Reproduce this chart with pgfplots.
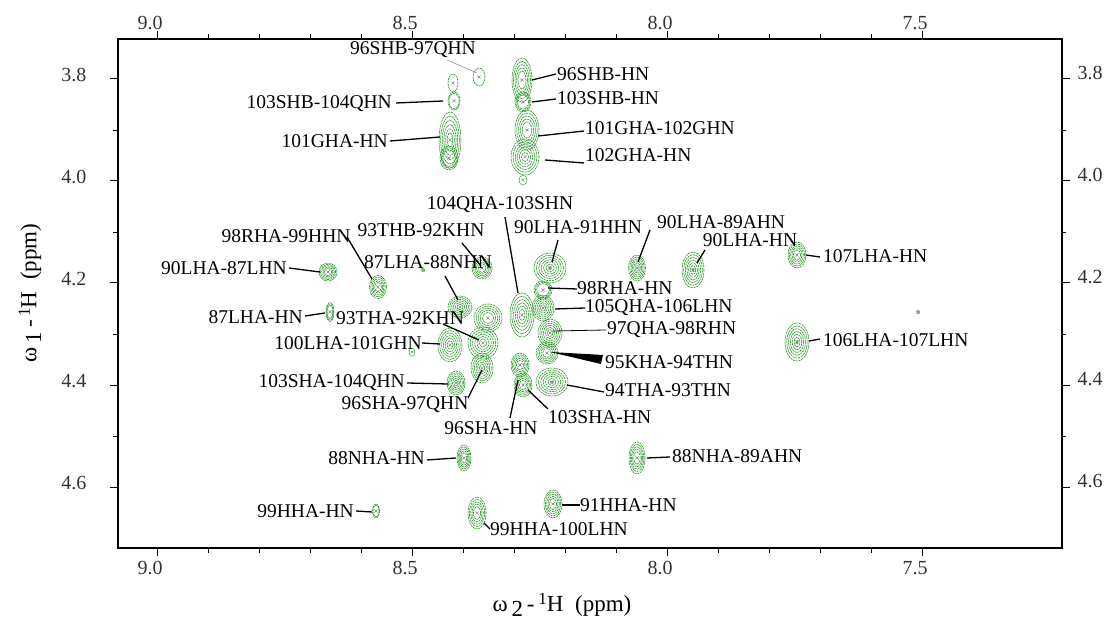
\documentclass[border=0pt]{standalone}
\usepackage{pgfplots}
\pgfplotsset{compat=1.18}
\usepackage{fontspec}
\setmainfont{Liberation Serif}
\definecolor{nmrgreen}{RGB}{25,145,25}
\definecolor{tickgray}{RGB}{50,50,50}

\pgfdeclareplotmark{nmr}{%
  \pgfmathtruncatemacro\pkN{\pkn}%
  \pgfmathsetmacro\pkc{min(1.6,0.45*\pkrx)}%
  \pgfscope
  \pgfsetstrokecolor{nmrgreen}%
  \pgfsetlinewidth{0.55bp}%
  \pgfsetdash{{2.2bp}{0.7bp}}{0pt}%
  \foreach \i in {1,...,\pkN}{%
    \pgfmathsetmacro\f{1-0.15*(\i-1)}%
    \pgfpathellipse{\pgfpointorigin}{\pgfpoint{\f*\pkrx bp}{0bp}}{\pgfpoint{0bp}{\f*\pkry bp}}%
    \pgfusepathqstroke
  }%
  \endpgfscope
  \pgfscope
  \pgfsetdash{}{0pt}%
  \pgfsetstrokecolor{gray}%
  \pgfsetlinewidth{0.4bp}%
  \pgfpathmoveto{\pgfpoint{-\pkc bp}{-\pkc bp}}\pgfpathlineto{\pgfpoint{\pkc bp}{\pkc bp}}%
  \pgfpathmoveto{\pgfpoint{-\pkc bp}{\pkc bp}}\pgfpathlineto{\pgfpoint{\pkc bp}{-\pkc bp}}%
  \pgfusepathqstroke
  \endpgfscope
}

\pgfplotstableread{
x y rx ry n
8.3686 3.7961 6 9 1
8.4196 3.8078 5 9 1
8.4176 3.8431 6 9 2
8.4255 3.9196 11 28 6
8.4275 3.9549 9 12 3
8.2843 3.8020 10 22 5
8.2824 3.8451 8 10 3
8.2745 3.9000 12 20 5
8.2784 3.9529 14 18 6
8.2824 3.9980 4 5 1
8.6647 4.1784 9 9 5
8.5667 4.2078 8.5 11.5 5
8.6608 4.2569 4 9.5 3
8.5000 4.3353 3 4 1
8.4784 4.1745 1.5 2 1
8.3627 4.1706 10 11 5
8.4059 4.2471 12 11 6
8.3510 4.2686 14 14 5
8.4255 4.3216 12 17 6
8.3608 4.3176 15 16 6
8.3627 4.3667 11 15 6
8.4137 4.3961 9 12 6
8.2843 4.2627 12 22 6
8.2882 4.3608 9 12 5
8.2824 4.4000 9 12 5
8.2294 4.1706 16 15 7
8.2431 4.2137 9 9 3
8.2431 4.2490 11 13 6
8.2294 4.2980 12 14 6
8.2353 4.3373 11 11 5
8.2255 4.3941 16 14 7
8.0588 4.1706 8.5 13 6
7.9490 4.1745 11 18 7
7.7451 4.1451 9 13 5
7.7451 4.3157 12 19 7
7.5078 4.2569 1.5 2 1
8.3980 4.5431 7 13 5
8.0588 4.5431 8 16 5
8.5706 4.6471 3.5 7 2
8.3725 4.6510 9 16 5
8.2235 4.6333 9 14 5
}\peaks

\begin{document}
\begin{tikzpicture}
\useasboundingbox (-118bp,-79bp) rectangle (989bp,548bp);
\pgfplotsset{
  every axis/.append style={
    at={(0,0)}, anchor=south west, scale only axis,
    width=944bp, height=509bp,
    x dir=reverse, y dir=reverse,
    xmin=7.2255, xmax=9.0765, ymin=3.72157, ymax=4.71961,
    xtick={7.5,8,8.5,9}, minor x tick num=4,
    ytick={3.8,4.0,4.2,4.4,4.6}, minor y tick num=1,
    tick align=outside, major tick length=8bp, minor tick length=4.5bp,
    axis line style={line width=1.5bp},
    every tick/.style={black, line width=1bp},
    every minor tick/.style={black, line width=0.6bp},
    /pgf/number format/assume math mode=true,
    /pgf/number format/.cd, fixed, fixed zerofill, precision=1, /pgfplots/.cd,
    tick label style={font=\fontsize{20bp}{24bp}\selectfont, text=tickgray},
  }
}
\begin{axis}[xtick pos=both, ytick pos=both,
  xticklabel pos=lower, yticklabel pos=left,
  xticklabel style={xshift=-7bp, yshift=-2bp},
  yticklabel style={xshift=-20bp, yshift=4bp},
  clip=true]
\addplot[only marks, mark=nmr,
  visualization depends on={\thisrow{rx} \as \pkrx},
  visualization depends on={\thisrow{ry} \as \pkry},
  visualization depends on={\thisrow{n} \as \pkn}]
  table[x=x, y=y] {\peaks};
\end{axis}
\begin{axis}[xtick pos=both, ytick pos=both,
  xticklabel pos=upper, yticklabel pos=right,
  xticklabel style={xshift=-7bp, yshift=-2bp},
  yticklabel style={xshift=4bp, yshift=6bp}]
\end{axis}

\begin{scope}[x=1bp, y=-1bp, shift={(-118bp,548bp)},
  every node/.style={font=\fontsize{19.5bp}{23bp}\selectfont, inner sep=0pt},
  ld/.style={line width=1.3bp, black}]
% axis titles
\node[font=\fontsize{23bp}{27bp}\selectfont] at (562,605) {ω\,\raisebox{-0.45ex}{2}\,-\,\raisebox{0.6ex}{\fontsize{17bp}{19bp}\selectfont 1}H\ \ (ppm)};
\node[rotate=90, font=\fontsize{23bp}{27bp}\selectfont] at (30,293) {ω\,\raisebox{-0.45ex}{1}\,-\,\raisebox{0.6ex}{\fontsize{17bp}{19bp}\selectfont 1}H\ \ (ppm)};
% labels
\node at (413,50) {96SHB-97QHN};
\draw[gray, line width=0.5bp] (447,60) -- (477,73);
\node[anchor=east] at (392,104) {103SHB-104QHN};
\draw[ld] (396,103) -- (443,101);
\node[anchor=east] at (388,141) {101GHA-HN};
\draw[ld] (390,141) -- (440,137);
\node[anchor=west] at (557,74) {96SHB-HN};
\draw[ld] (532,80) -- (556,74);
\node[anchor=west] at (557,98) {103SHB-HN};
\draw[ld] (532,102) -- (556,99);
\node[anchor=west] at (585,128) {101GHA-102GHN};
\draw[ld] (538,136) -- (584,131);
\node[anchor=west] at (585,155) {102GHA-HN};
\draw[ld] (545,160) -- (584,163);
\node at (286,236) {98RHA-99HHN};
\draw[ld] (347,237) -- (372,279);
\node at (421,230) {93THB-92KHN};
\draw[ld] (462,243) -- (481,266);
\node[anchor=east] at (287,268) {90LHA-87LHN};
\draw[ld] (289,268) -- (320,272);
\node at (428,262) {87LHA-88NHN};
\draw[ld] (445,276) -- (458,300);
\node[anchor=east] at (303,317) {87LHA-HN};
\draw[ld] (305,316) -- (325,313);
\node at (400,318) {93THA-92KHN};
\draw[ld] (443,324) -- (479,340);
\node[anchor=east] at (422,343) {100LHA-101GHN};
\draw[ld] (422,343) -- (440,344);
\node[anchor=east] at (405,383) {103SHA-104QHN};
\draw[ld] (407,383) -- (448,384);
\node at (405,405) {96SHA-97QHN};
\draw[ld] (468,398) -- (482,370);
\node at (500,205) {104QHA-103SHN};
\draw[ld] (505,217) -- (518,293);
\node at (578,227) {90LHA-91HHN};
\draw[ld] (558,240) -- (552,262);
\node[anchor=west] at (657,222) {90LHA-89AHN};
\draw[ld] (650,230) -- (638,262);
\node at (750,240) {90LHA-HN};
\draw[ld] (705,250) -- (697,263);
\node[anchor=west] at (823,256) {107LHA-HN};
\draw[ld] (806,255) -- (820,257);
\node[anchor=west] at (577,288) {98RHA-HN};
\draw[ld] (548,288) -- (577,289);
\node[anchor=west] at (585,308) {105QHA-106LHN};
\draw[ld] (555,309) -- (585,308);
\node[anchor=west] at (607,330) {97QHA-98RHN};
\draw[line width=0.8bp] (553,331) -- (606,330);
\node[anchor=west] at (605,362) {95KHA-94THN};
\fill (550,352) -- (603,355) -- (601,364) -- cycle;
\node[anchor=west] at (605,390) {94THA-93THN};
\draw[ld] (567,385) -- (604,392);
\node[anchor=west] at (823,340) {106LHA-107LHN};
\draw[ld] (809,341) -- (820,339);
\node[anchor=west] at (548,417) {103SHA-HN};
\draw[ld] (548,409) -- (528,390);
\node at (491,428) {96SHA-HN};
\draw[ld] (510,418) -- (518,380);
\node[anchor=east] at (425,458) {88NHA-HN};
\draw[ld] (427,460) -- (456,458);
\node[anchor=west] at (672,456) {88NHA-89AHN};
\draw[ld] (647,458) -- (670,457);
\node[anchor=east] at (354,511) {99HHA-HN};
\draw[ld] (356,511) -- (372,512);
\node[anchor=west] at (490,529) {99HHA-100LHN};
\draw[ld] (484,523) -- (490,529);
\node[anchor=west] at (580,505) {91HHA-HN};
\draw[ld] (562,505) -- (580,505);
\end{scope}
\end{tikzpicture}
\end{document}
